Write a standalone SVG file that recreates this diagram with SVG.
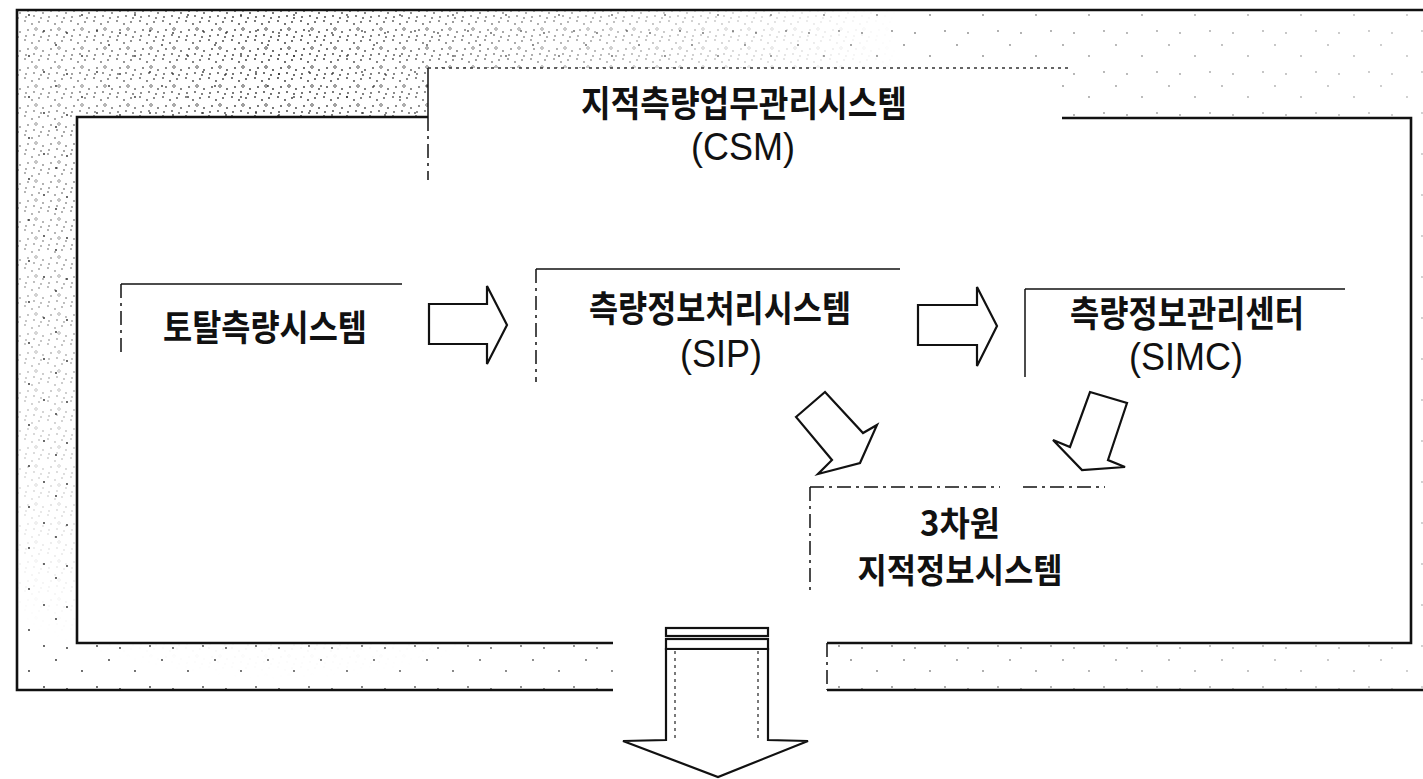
<svg xmlns="http://www.w3.org/2000/svg" width="1423" height="779" viewBox="0 0 1423 779">
<style>
.frame{fill:none;stroke:#111;stroke-width:2.6}
.thin{fill:none;stroke:#111;stroke-width:1.5}
.dash{fill:none;stroke:#111;stroke-width:1.5;stroke-dasharray:14 5 3 5}
.dot{fill:none;stroke:#333;stroke-width:1.3;stroke-dasharray:3 4}
.arrow{fill:#fff;stroke:#111;stroke-width:2.2;stroke-linejoin:miter}
.ko{font-family:"Noto Sans CJK KR","Noto Sans",sans-serif;font-weight:700;font-size:30px;fill:#111;text-anchor:middle}
.en{font-family:"Liberation Sans",Arial,sans-serif;font-size:36px;fill:#111;text-anchor:middle}
</style>
<defs>
<pattern id="sparse" width="53" height="41" patternUnits="userSpaceOnUse">
<circle cx="3" cy="4" r="0.9" fill="#222"/>
<circle cx="29" cy="15" r="0.9" fill="#222"/>
<circle cx="44" cy="31" r="0.9" fill="#222"/>
<circle cx="14" cy="33" r="0.9" fill="#222"/>
</pattern>
<pattern id="dense" width="23" height="19" patternUnits="userSpaceOnUse">
<circle cx="2" cy="2" r="0.9" fill="#222"/>
<circle cx="9" cy="5" r="0.9" fill="#222"/>
<circle cx="16" cy="3" r="0.9" fill="#222"/>
<circle cx="5" cy="11" r="0.9" fill="#222"/>
<circle cx="13" cy="10" r="1.3" fill="none" stroke="#222" stroke-width="0.8"/>
<circle cx="20" cy="13" r="0.9" fill="#222"/>
<circle cx="3" cy="17" r="0.9" fill="#222"/>
<circle cx="11" cy="16" r="0.9" fill="#222"/>
<circle cx="18" cy="18" r="0.9" fill="#222"/>
</pattern>
<radialGradient id="g" cx="280" cy="60" r="620" gradientUnits="userSpaceOnUse">
<stop offset="0" stop-color="#fff" stop-opacity="1"/>
<stop offset="0.4" stop-color="#fff" stop-opacity="0.55"/>
<stop offset="1" stop-color="#fff" stop-opacity="0"/>
</radialGradient>
<linearGradient id="lg" x1="0" y1="0" x2="1423" y2="0" gradientUnits="userSpaceOnUse">
<stop offset="0" stop-color="#fff" stop-opacity="1"/>
<stop offset="0.6" stop-color="#fff" stop-opacity="0.6"/>
<stop offset="1" stop-color="#fff" stop-opacity="0.3"/>
</linearGradient>
<mask id="mDense"><rect width="1423" height="779" fill="url(#g)"/></mask>
<mask id="mSparse"><rect width="1423" height="779" fill="url(#lg)"/></mask>
</defs>
<rect width="1423" height="779" fill="#fff"/>

<g id="background-stipple">
<path fill-rule="evenodd" fill="url(#sparse)" mask="url(#mSparse)" d="M17,10 H1423 V690 H827 V643 H1411 V118 H1062 V68 H428 V117 H77 V643 H613 V690 H17 Z"/>
<path fill-rule="evenodd" fill="url(#dense)" mask="url(#mDense)" d="M17,10 H1423 V690 H827 V643 H1411 V118 H1062 V68 H428 V117 H77 V643 H613 V690 H17 Z"/>
</g>

<g id="frame">
<path class="frame" d="M1423,10 H17 V690 H613"/>
<path class="frame" d="M827,690 H1423"/>
<path class="frame" d="M613,643 H77 V117 H428"/>
<path class="frame" d="M1062,118 H1411 V643 H827"/>
<path class="dash" d="M827,643 V690"/>
</g>

<g id="csm">
<path class="thin" d="M428,117 V68"/>
<path class="dash" d="M428,117 V180"/>
<path class="dot" d="M428,68 H1070"/>
<text class="ko" transform="translate(744,117) scale(1,1.2)" textLength="326" lengthAdjust="spacingAndGlyphs">지적측량업무관리시스템</text>
<text class="en" transform="translate(743,160) scale(1,1.1)">(CSM)</text>
</g>

<g id="total">
<path class="thin" d="M121,284 H402"/>
<path class="dash" d="M121,284 V357"/>
<text class="ko" transform="translate(265,341) scale(1,1.2)" textLength="204" lengthAdjust="spacingAndGlyphs">토탈측량시스템</text>
</g>

<g id="sip">
<path class="thin" d="M536,269 H900"/>
<path class="dash" d="M536,269 V382"/>
<text class="ko" transform="translate(720,322) scale(1,1.2)" textLength="262" lengthAdjust="spacingAndGlyphs">측량정보처리시스템</text>
<text class="en" transform="translate(721,367) scale(1,1.1)">(SIP)</text>
</g>

<g id="simc">
<path class="thin" d="M1025,289 H1345"/>
<path class="thin" d="M1025,289 V377"/>
<text class="ko" transform="translate(1187,327) scale(1,1.2)" textLength="234" lengthAdjust="spacingAndGlyphs">측량정보관리센터</text>
<text class="en" transform="translate(1186,370) scale(1,1.1)">(SIMC)</text>
</g>

<g id="cadastre3d">
<path class="dash" d="M810,487 H1000"/>
<path class="dash" d="M1023,487 H1105"/>
<path class="dash" d="M810,487 V590"/>
<text class="ko" transform="translate(960,536) scale(1,1.15)" textLength="80" lengthAdjust="spacingAndGlyphs">3차원</text>
<text class="ko" transform="translate(960,583) scale(1,1.15)" textLength="205" lengthAdjust="spacingAndGlyphs">지적정보시스템</text>
</g>

<g id="connectors">
<polygon class="arrow" points="429,304 487,304 487,286 507,325 487,364 487,344 429,344"/>
<polygon class="arrow" points="918,305 977,305 977,287 997,326 977,366 977,345 918,345"/>
<polygon class="arrow" points="796,417 825,392 863,433 877,425 860,463 818,474 832,460"/>
<polygon class="arrow" points="1090,392 1127,403 1108,460 1125,467 1082,470 1053,440 1070,447"/>
<g id="out-arrow">
<rect class="arrow" x="666" y="628" width="102" height="8" stroke-width="1.6"/>
<rect class="arrow" x="666" y="639" width="102" height="10" stroke-width="1.6"/>
<polygon class="arrow" points="666,649 768,649 768,740 808,741 718,777 623,741 666,740"/>
<path class="dot" d="M675,651 V738 M758,651 V738"/>
</g>
</g>
</svg>
